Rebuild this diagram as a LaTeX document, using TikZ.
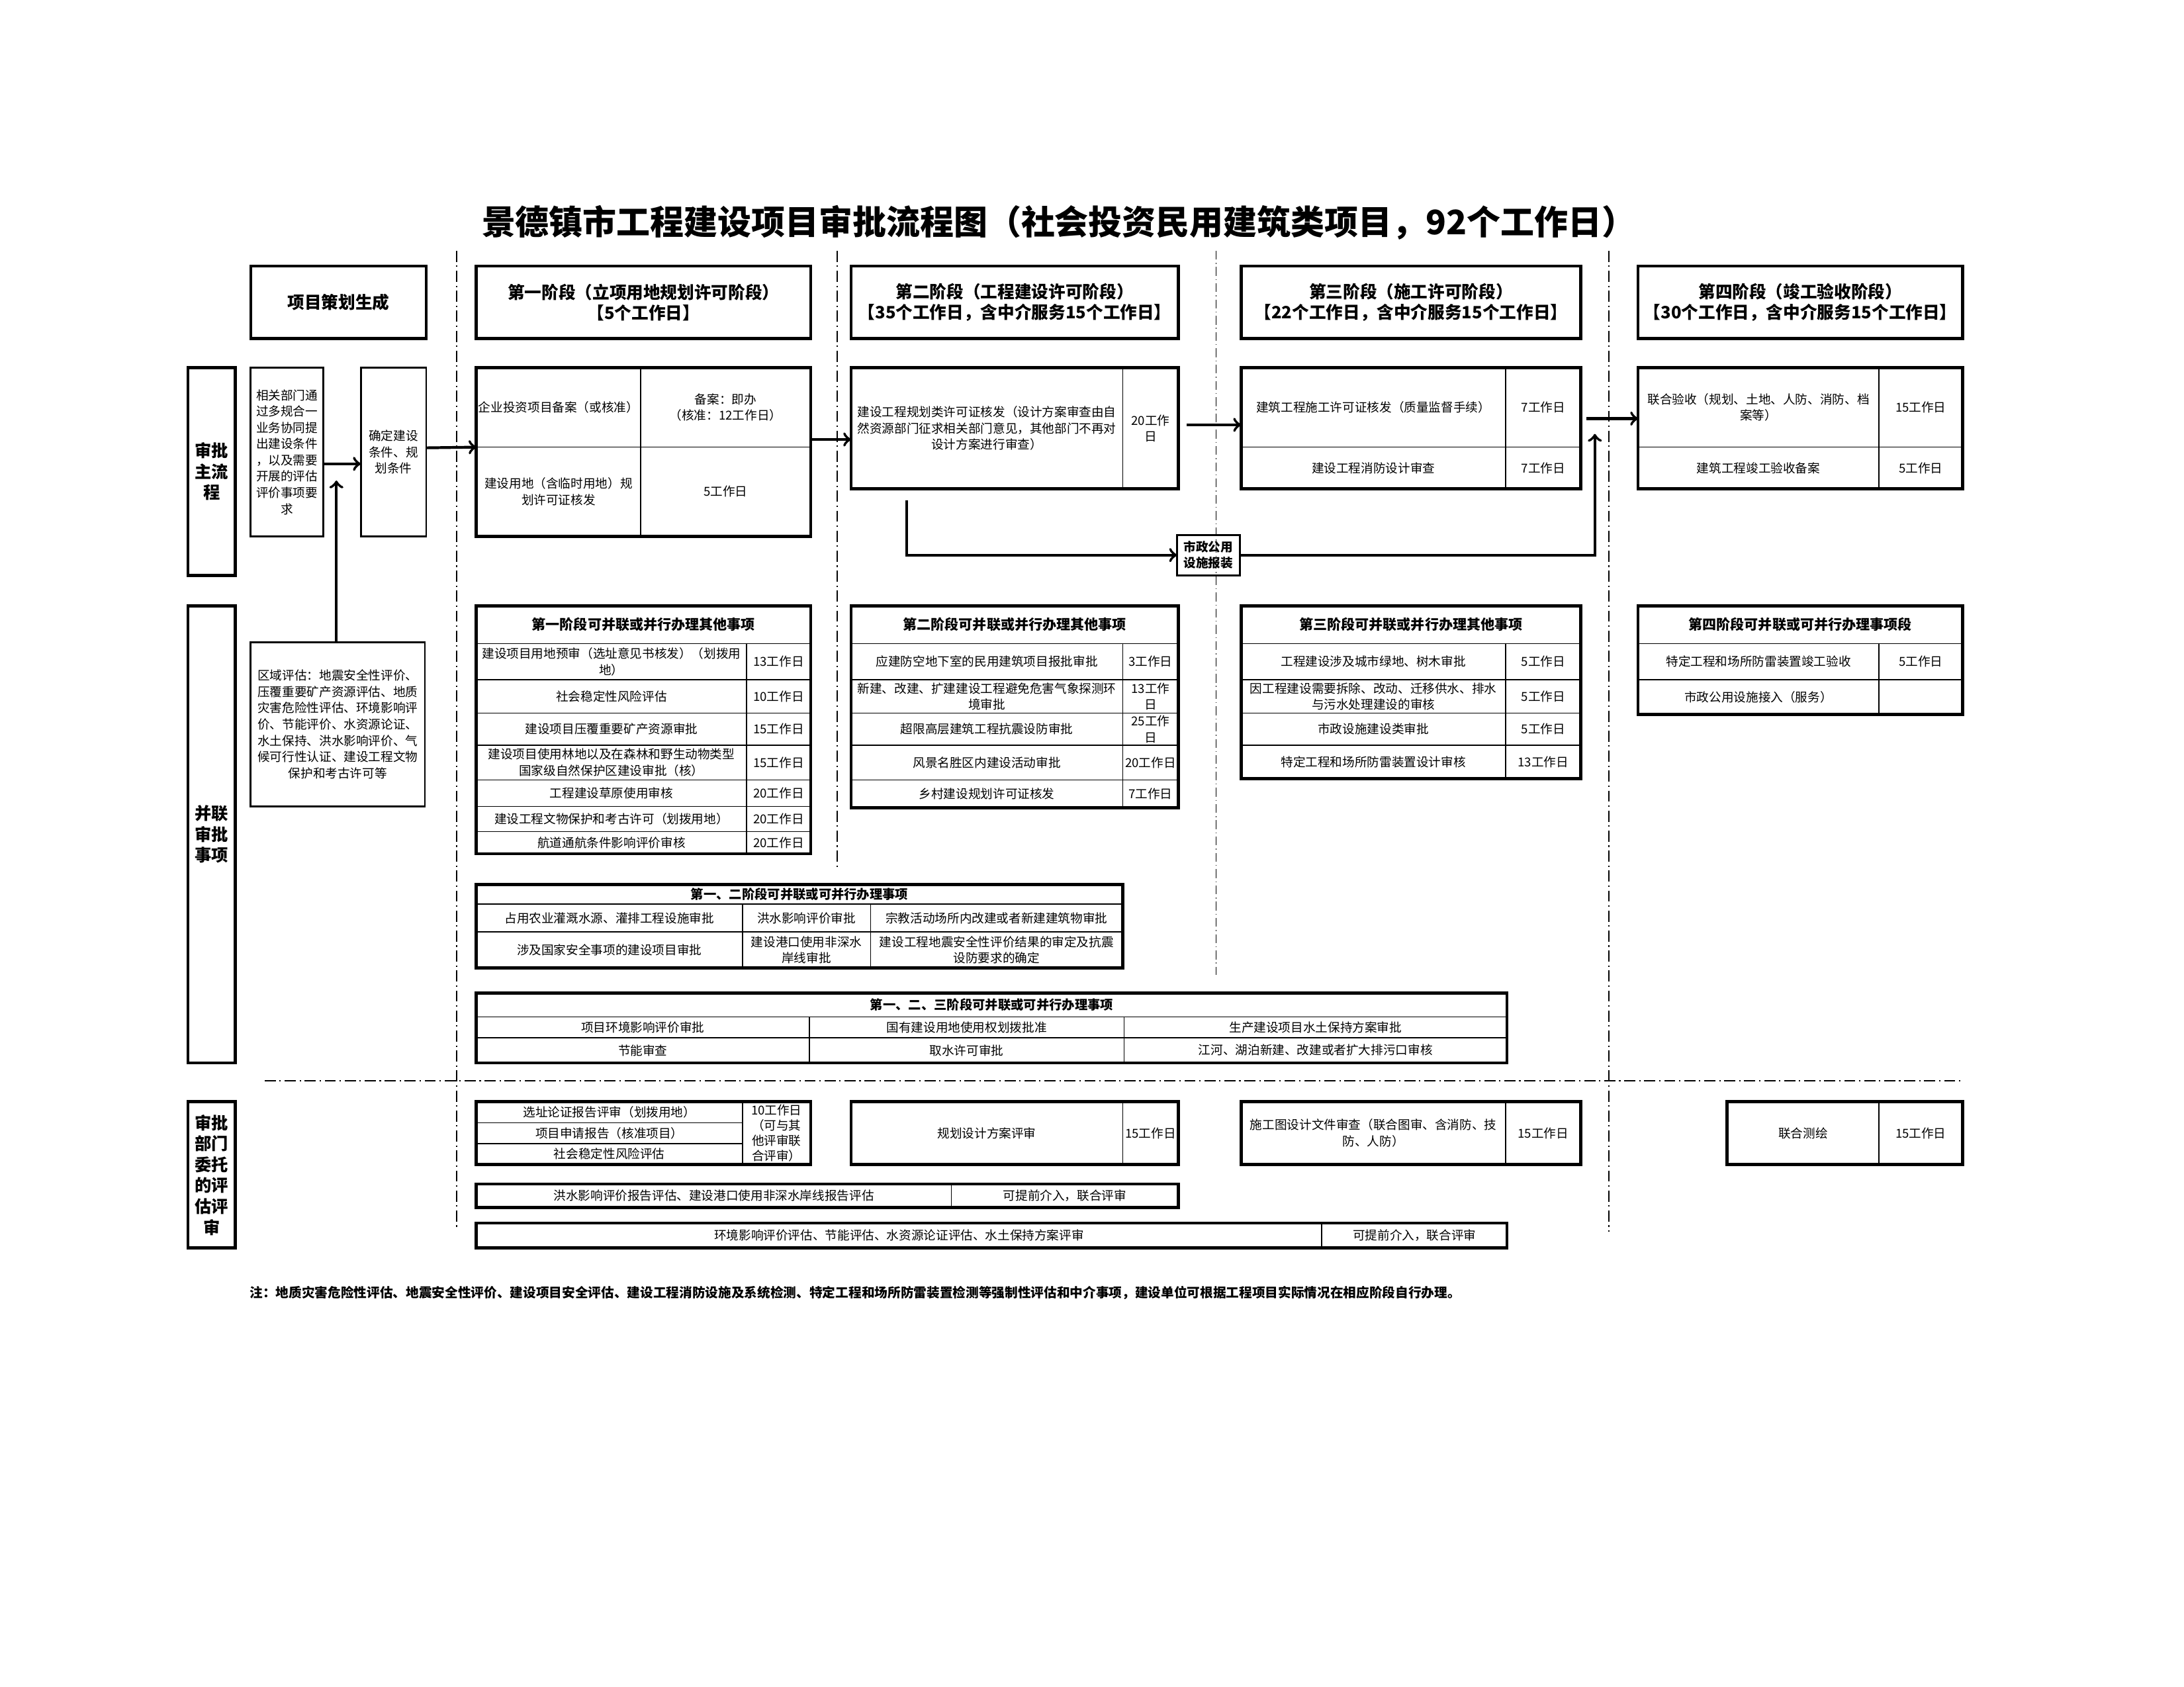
\documentclass[tikz,border=0pt]{standalone}
\usepackage{fontspec}
\setmainfont{Noto Sans CJK SC}
\usetikzlibrary{calc}
\def\pxu{0.02105cm}
\newcommand\cellbox[7][]{%
  \node[cell,minimum width={(#4-#2)*\pxu},minimum height={(#5-#3)*\pxu},#1]
    (#6) at ({(#2+#4)/2},{(#3+#5)/2}) {#7};}
\tikzset{
  cell/.style={draw,line width=0.45pt,inner sep=0.5pt,outer sep=0pt,align=center,
    font=\fontsize{5.3}{7}\selectfont},
  headcell/.style={cell,font=\bfseries\fontsize{6}{7.5}\selectfont},
  subhead/.style={cell,font=\bfseries\fontsize{5.5}{7}\selectfont},
  stagebox/.style={cell,line width=1.3pt,font=\bfseries\fontsize{7.3}{8.8}\selectfont},
  sidebox/.style={cell,line width=1.3pt,font=\bfseries\fontsize{7.2}{9}\selectfont},
  smallbox/.style={cell,line width=0.8pt},
  tblframe/.style={line width=1.3pt},
  flow/.style={->,line width=1.2pt},
  phase/.style={line width=0.6pt,dash pattern=on 4.8pt off 1.6pt on 0.6pt off 1.6pt},
}
\begin{document}
\begin{tikzpicture}[x=0.02105cm,y=-0.02105cm]
\useasboundingbox (0,0) rectangle (1568,1211);
\node[font=\bfseries\fontsize{14.5}{18}\selectfont] (title) at (760,160) {景德镇市工程建设项目审批流程图（社会投资民用建筑类项目，92个工作日）};

\foreach \x/\yend in {328/882,601/624,1155/884} \draw[phase] (\x,180) -- (\x,\yend);
\draw[phase,line width=0.4pt,dash pattern=on 3.8pt off 1.4pt on 0.4pt off 1.4pt] (873,180) -- (873,700);
\draw[phase] (190,776) -- (1408,776);

\cellbox[stagebox]{180}{191}{306}{243}{plan}{项目策划生成}
\cellbox[stagebox]{342}{191}{582}{243}{s1h}{第一阶段（立项用地规划许可阶段）\\【5个工作日】}
\cellbox[stagebox]{611}{191}{846}{243}{s2h}{第二阶段（工程建设许可阶段）\\【35个工作日，含中介服务15个工作日】}
\cellbox[stagebox]{891}{191}{1135}{243}{s3h}{第三阶段（施工许可阶段）\\【22个工作日，含中介服务15个工作日】}
\cellbox[stagebox]{1176}{191}{1409}{243}{s4h}{第四阶段（竣工验收阶段）\\【30个工作日，含中介服务15个工作日】}

\cellbox[sidebox]{135}{264}{169}{413}{lmain}{审批\\主流\\程}
\cellbox[sidebox]{135}{435}{169}{763}{lpar}{并联\\审批\\事项}
\cellbox[sidebox]{135}{791}{169}{896}{leval}{审批\\部门\\委托\\的评\\估评\\审}

\cellbox[smallbox]{180}{264}{232}{385}{req}{相关部门通\\过多规合一\\业务协同提\\出建设条件\\，以及需要\\开展的评估\\评价事项要\\求}
\cellbox[smallbox]{259}{264}{306}{385}{cond}{确定建设\\条件、规\\划条件}
\cellbox[smallbox]{180}{461}{305}{579}{zone}{区域评估：地震安全性评价、\\压覆重要矿产资源评估、地质\\灾害危险性评估、环境影响评\\价、节能评价、水资源论证、\\水土保持、洪水影响评价、气\\候可行性认证、建设工程文物\\保护和考古许可等}

\cellbox{342}{264}{460}{321}{s1a}{企业投资项目备案（或核准）}
\cellbox{460}{264}{582}{321}{s1b}{备案：即办\\（核准：12工作日）}
\cellbox{342}{321}{460}{385}{s1c}{建设用地（含临时用地）规\\划许可证核发}
\cellbox{460}{321}{582}{385}{s1d}{5工作日}
\draw[tblframe] (s1a.north west) rectangle (s1d.south east);

\cellbox{611}{264}{806}{351}{s2a}{建设工程规划类许可证核发（设计方案审查由自\\然资源部门征求相关部门意见，其他部门不再对\\设计方案进行审查）}
\cellbox{806}{264}{846}{351}{s2b}{20工作\\日}
\draw[tblframe] (s2a.north west) rectangle (s2b.south east);

\cellbox{891}{264}{1081}{321}{s3a}{建筑工程施工许可证核发（质量监督手续）}
\cellbox{1081}{264}{1135}{321}{s3b}{7工作日}
\cellbox{891}{321}{1081}{351}{s3c}{建设工程消防设计审查}
\cellbox{1081}{321}{1135}{351}{s3d}{7工作日}
\draw[tblframe] (s3a.north west) rectangle (s3d.south east);

\cellbox{1176}{264}{1349}{321}{s4a}{联合验收（规划、土地、人防、消防、档\\案等）}
\cellbox{1349}{264}{1409}{321}{s4b}{15工作日}
\cellbox{1176}{321}{1349}{351}{s4c}{建筑工程竣工验收备案}
\cellbox{1349}{321}{1409}{351}{s4d}{5工作日}
\draw[tblframe] (s4a.north west) rectangle (s4d.south east);

\cellbox[smallbox,font=\bfseries\fontsize{5.3}{6.8}\selectfont]{845}{384}{890}{413}{sz}{市政公用\\设施报装}

\draw[flow] ($(req.east)+(0,8.5)$) -- ($(req.east -| cond.west)+(0,8.5)$);
\draw[flow] ($(zone.north)+(-1,0)$) -- ($(zone.north)+(-1,-116)$);
\draw[flow] ($(cond.east)+(0,-3)$) -- (s1a.south west);
\draw[flow] ($(s1b.south east)+(0,-5.5)$) -- ($(s1b.south east -| s2a.west)+(0,-5.5)$);
\draw[flow] ($(s2b.east)+(6,-2.5)$) -- ($(s2b.east -| s3a.west)+(0,-2.5)$);
\draw[flow] ($(s3b.east)+(4,8)$) -- ($(s3b.east -| s4a.west)+(0,8)$);
\draw[flow] ($(s2a.south west)+(40,8)$) |- (sz.west);
\draw[flow] (sz.east) -| ($(s3b.east)+(10,19)$);

\cellbox[headcell]{342}{435}{582}{462}{p1h}{第一阶段可并联或并行办理其他事项}
\foreach \ya/\yb/\rw/\txt/\dur in {
  462/488/1/{建设项目用地预审（选址意见书核发）（划拨用\\地）}/13工作日,
  488/512/2/社会稳定性风险评估/10工作日,
  512/535/3/建设项目压覆重要矿产资源审批/15工作日,
  535/560/4/{建设项目使用林地以及在森林和野生动物类型\\国家级自然保护区建设审批（核）}/15工作日,
  560/579/5/工程建设草原使用审核/20工作日,
  579/597/6/建设工程文物保护和考古许可（划拨用地）/20工作日,
  597/613/7/航道通航条件影响评价审核/20工作日}
  {\cellbox{342}{\ya}{536}{\yb}{p1a\rw}{\txt}
   \cellbox{536}{\ya}{582}{\yb}{p1b\rw}{\dur}}
\draw[tblframe] (p1h.north west) rectangle (p1b7.south east);

\cellbox[headcell]{611}{435}{846}{462}{p2h}{第二阶段可并联或并行办理其他事项}
\foreach \ya/\yb/\rw/\txt/\dur in {
  462/488/1/应建防空地下室的民用建筑项目报批审批/3工作日,
  488/512/2/{新建、改建、扩建建设工程避免危害气象探测环\\境审批}/{13工作\\日},
  512/535/3/超限高层建筑工程抗震设防审批/{25工作\\日},
  535/560/4/风景名胜区内建设活动审批/20工作日,
  560/580/5/乡村建设规划许可证核发/7工作日}
  {\cellbox{611}{\ya}{806}{\yb}{p2a\rw}{\txt}
   \cellbox{806}{\ya}{846}{\yb}{p2b\rw}{\dur}}
\draw[tblframe] (p2h.north west) rectangle (p2b5.south east);

\cellbox[headcell]{891}{435}{1135}{462}{p3h}{第三阶段可并联或并行办理其他事项}
\foreach \ya/\yb/\rw/\txt/\dur in {
  462/488/1/工程建设涉及城市绿地、树木审批/5工作日,
  488/512/2/{因工程建设需要拆除、改动、迁移供水、排水\\与污水处理建设的审核}/5工作日,
  512/535/3/市政设施建设类审批/5工作日,
  535/559/4/特定工程和场所防雷装置设计审核/13工作日}
  {\cellbox{891}{\ya}{1081}{\yb}{p3a\rw}{\txt}
   \cellbox{1081}{\ya}{1135}{\yb}{p3b\rw}{\dur}}
\draw[tblframe] (p3h.north west) rectangle (p3b4.south east);

\cellbox[headcell]{1176}{435}{1409}{462}{p4h}{第四阶段可并联或可并行办理事项段}
\foreach \ya/\yb/\rw/\txt/\dur in {
  462/488/1/特定工程和场所防雷装置竣工验收/5工作日,
  488/513/2/市政公用设施接入（服务）/{}}
  {\cellbox{1176}{\ya}{1349}{\yb}{p4a\rw}{\txt}
   \cellbox{1349}{\ya}{1409}{\yb}{p4b\rw}{\dur}}
\draw[tblframe] (p4h.north west) rectangle (p4b2.south east);

\cellbox[subhead]{342}{635}{806}{649}{q1h}{第一、二阶段可并联或可并行办理事项}
\foreach \ya/\yb/\rw/\ca/\cb/\cc in {
  649/669/1/占用农业灌溉水源、灌排工程设施审批/洪水影响评价审批/宗教活动场所内改建或者新建建筑物审批,
  669/695/2/涉及国家安全事项的建设项目审批/{建设港口使用非深水\\岸线审批}/{建设工程地震安全性评价结果的审定及抗震\\设防要求的确定}}
  {\cellbox{342}{\ya}{533}{\yb}{q1a\rw}{\ca}
   \cellbox{533}{\ya}{625}{\yb}{q1b\rw}{\cb}
   \cellbox{625}{\ya}{806}{\yb}{q1c\rw}{\cc}}
\draw[tblframe] (q1h.north west) rectangle (q1c2.south east);

\cellbox[subhead]{342}{713}{1082}{730}{q2h}{第一、二、三阶段可并联或可并行办理事项}
\foreach \ya/\yb/\rw/\ca/\cb/\cc in {
  730/745/1/项目环境影响评价审批/国有建设用地使用权划拨批准/生产建设项目水土保持方案审批,
  745/763/2/节能审查/取水许可审批/江河、湖泊新建、改建或者扩大排污口审核}
  {\cellbox{342}{\ya}{581}{\yb}{q2a\rw}{\ca}
   \cellbox{581}{\ya}{807}{\yb}{q2b\rw}{\cb}
   \cellbox{807}{\ya}{1082}{\yb}{q2c\rw}{\cc}}
\draw[tblframe] (q2h.north west) rectangle (q2c2.south east);

\cellbox{342}{791}{533}{806}{ea1}{选址论证报告评审（划拨用地）}
\cellbox{342}{806}{533}{821}{ea2}{项目申请报告（核准项目）}
\cellbox{342}{821}{533}{836}{ea3}{社会稳定性风险评估}
\cellbox[font=\fontsize{5.3}{6.5}\selectfont]{533}{791}{582}{836}{ead}{10工作日\\（可与其\\他评审联\\合评审）}
\draw[tblframe] (ea1.north west) rectangle (ead.south east);

\cellbox{611}{791}{806}{836}{eb1}{规划设计方案评审}
\cellbox{806}{791}{846}{836}{eb2}{15工作日}
\draw[tblframe] (eb1.north west) rectangle (eb2.south east);

\cellbox{891}{791}{1081}{836}{ec1}{施工图设计文件审查（联合图审、含消防、技\\防、人防）}
\cellbox{1081}{791}{1135}{836}{ec2}{15工作日}
\draw[tblframe] (ec1.north west) rectangle (ec2.south east);

\cellbox{1240}{791}{1349}{836}{ed1}{联合测绘}
\cellbox{1349}{791}{1409}{836}{ed2}{15工作日}
\draw[tblframe] (ed1.north west) rectangle (ed2.south east);

\cellbox{342}{850}{683}{867}{ee1}{洪水影响评价报告评估、建设港口使用非深水岸线报告评估}
\cellbox{683}{850}{846}{867}{ee2}{可提前介入，联合评审}
\draw[tblframe] (ee1.north west) rectangle (ee2.south east);

\cellbox{342}{878}{949}{896}{ef1}{环境影响评价评估、节能评估、水资源论证评估、水土保持方案评审}
\cellbox{949}{878}{1082}{896}{ef2}{可提前介入，联合评审}
\draw[tblframe] (ef1.north west) rectangle (ef2.south east);

\node[anchor=west,inner sep=0pt,font=\bfseries\fontsize{5.6}{7}\selectfont] (note) at (179,928) {注：地质灾害危险性评估、地震安全性评价、建设项目安全评估、建设工程消防设施及系统检测、特定工程和场所防雷装置检测等强制性评估和中介事项，建设单位可根据工程项目实际情况在相应阶段自行办理。};
\end{tikzpicture}
\end{document}
